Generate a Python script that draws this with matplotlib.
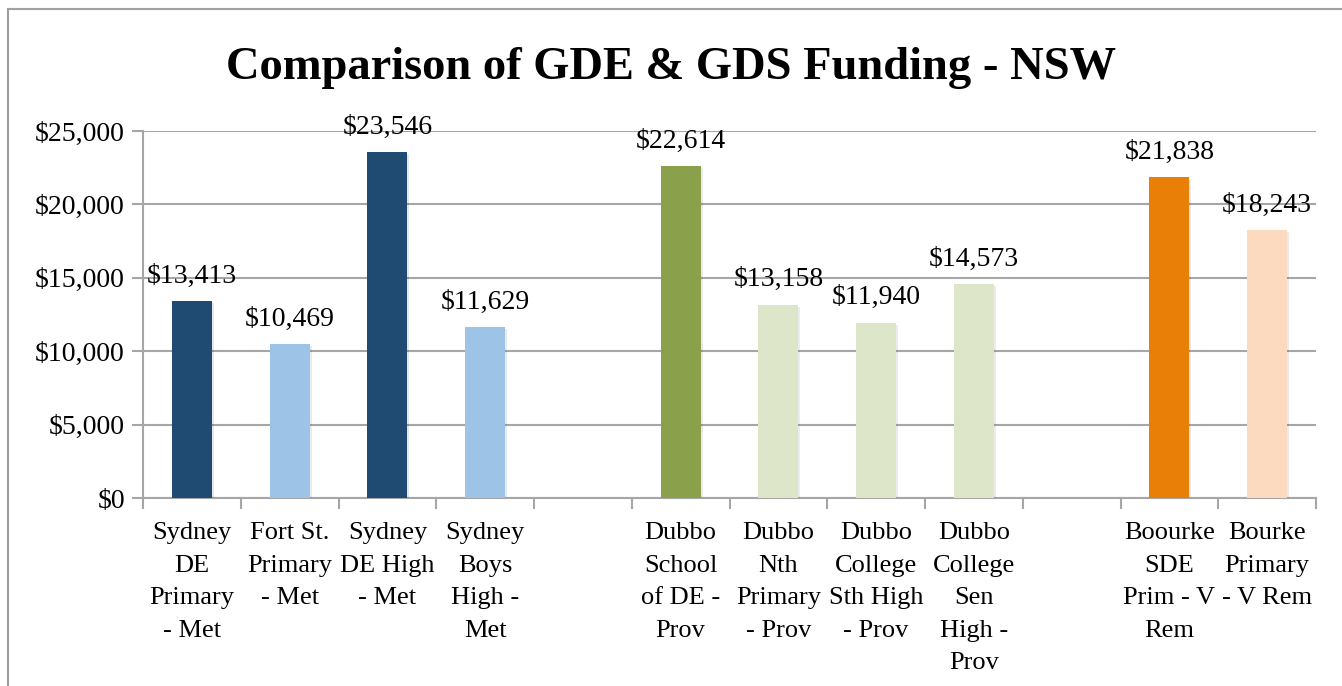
import numpy as np
import matplotlib

matplotlib.use("Agg")
import matplotlib.pyplot as plt
from matplotlib.lines import Line2D
from matplotlib.ticker import FuncFormatter, FixedLocator
import matplotlib.patheffects as pe

plt.rcParams["font.family"] = ["Liberation Serif", "DejaVu Serif"]

# ------------------------------------------------------------------ data
schools = [
    "Sydney\nDE\nPrimary\n- Met",
    "Fort St.\nPrimary\n- Met",
    "Sydney\nDE High\n- Met",
    "Sydney\nBoys\nHigh -\nMet",
    "",
    "Dubbo\nSchool\nof DE -\nProv",
    "Dubbo\nNth\nPrimary\n- Prov",
    "Dubbo\nCollege\nSth High\n- Prov",
    "Dubbo\nCollege\nSen\nHigh -\nProv",
    "",
    "Boourke\nSDE\nPrim - V\nRem",
    "Bourke\nPrimary\n- V Rem",
]
funding = [13413, 10469, 23546, 11629, np.nan,
           22614, 13158, 11940, 14573, np.nan,
           21838, 18243]
y_ticks = [0, 5000, 10000, 15000, 20000, 25000]

bar_colors = ["#1F4A72", "#9DC3E6", "#1F4A72", "#9DC3E6", "white",
              "#8AA04B", "#DDE6C8", "#DDE6C8", "#DDE6C8", "white",
              "#E97F06", "#FBDABF"]

GRID = "#A6A6A6"

fig = plt.figure(figsize=(13.42, 6.86), dpi=100)
ax = fig.add_axes([143 / 1342, 188 / 686, 1173 / 1342, 367 / 686])

x = np.arange(len(schools))
for xi, v, c in zip(x, funding, bar_colors):
    if np.isnan(v):
        continue
    b = ax.bar(xi, v, width=0.41, color=c, zorder=3)
    b[0].set_path_effects([pe.SimplePatchShadow(offset=(1.5, -1.5), alpha=0.1),
                           pe.Normal()])
    ax.annotate(f"${v:,.0f}", (xi, v), xytext=(0, 9),
                textcoords="offset points", ha="center", va="bottom",
                fontsize=20, zorder=4)

# category labels under the axis
for xi, lab in zip(x, schools):
    ax.annotate(lab, (xi, 0), xycoords=ax.get_xaxis_transform(),
                xytext=(0, -17.5), textcoords="offset points",
                ha="center", va="top", fontsize=19, linespacing=1.62,
                multialignment="center")

ax.set_xlim(-0.5, len(schools) - 0.5)
ax.set_ylim(0, 25000)

ax.yaxis.set_major_locator(FixedLocator(y_ticks))
ax.yaxis.set_major_formatter(FuncFormatter(lambda v, _: f"${v:,.0f}"))
ax.grid(axis="y", color=GRID, linewidth=1.5, zorder=0)

# ticks at category boundaries
ax.set_xticks(np.arange(-0.5, len(schools)))
ax.set_xticklabels([])
ax.tick_params(axis="x", length=8, width=1.5, color=GRID, direction="out")
ax.tick_params(axis="y", length=8, width=1.5, color=GRID, labelsize=20,
               pad=5)

for s in ["top", "right"]:
    ax.spines[s].set_visible(False)
for s in ["left", "bottom"]:
    ax.spines[s].set_color(GRID)
    ax.spines[s].set_linewidth(1.5)

fig.text(0.5, 1 - 68 / 686, "Comparison of GDE & GDS Funding - NSW",
         ha="center", va="center", fontsize=33.5, fontweight="bold")

# chart frame (top and left edge visible in the crop)
fx, fy = 7.5 / 1342, 1 - 9 / 686
fig.add_artist(Line2D([fx, 1.0], [fy, fy], color="#A0A0A0", linewidth=1.5))
fig.add_artist(Line2D([fx, fx], [0.0, fy], color="#A0A0A0", linewidth=1.5))

fig.savefig("out.png", dpi=100)
